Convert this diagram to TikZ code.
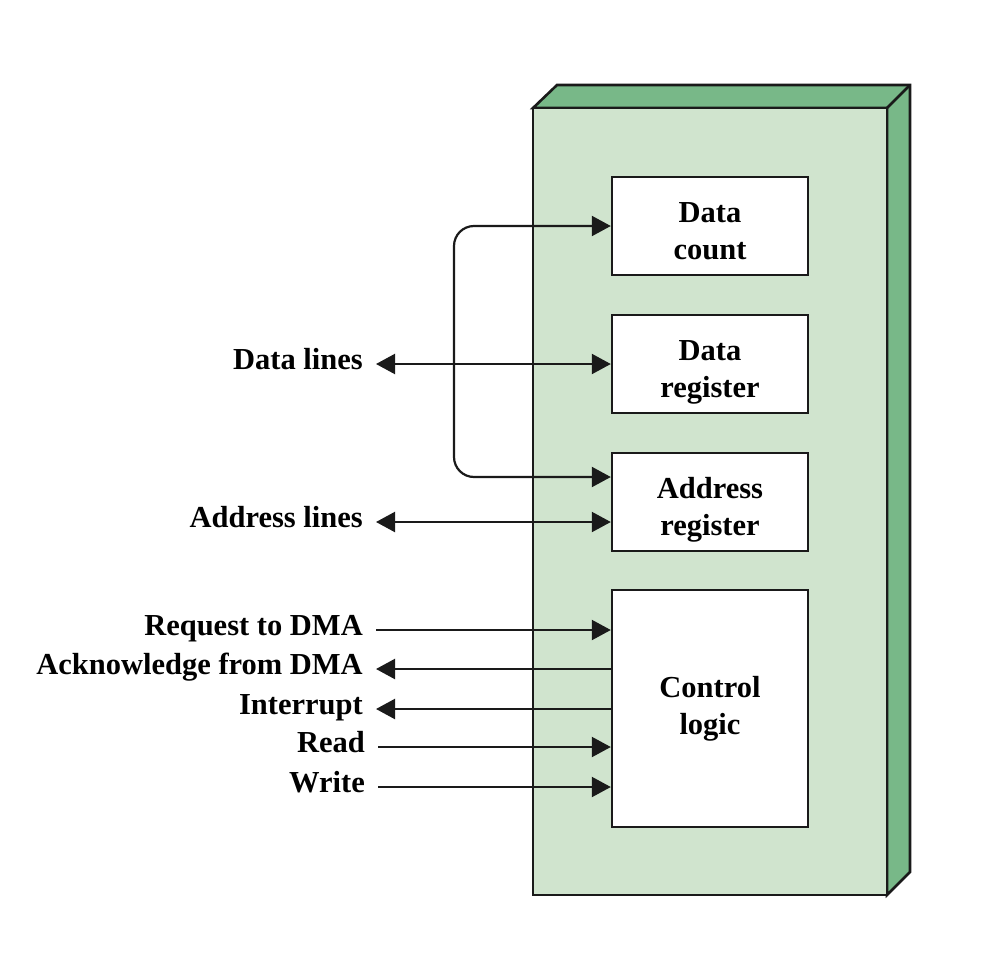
\documentclass[tikz,border=0pt]{standalone}
\usepackage{fontspec}
\setmainfont{Liberation Serif}
\usetikzlibrary{arrows.meta}
\definecolor{frontg}{HTML}{D0E4CE}
\definecolor{sideg}{HTML}{78B888}
\definecolor{ink}{HTML}{1A1A1A}
\begin{document}
\begin{tikzpicture}[x=1pt,y=-1pt,
  >={Triangle[length=19pt,width=20pt]},
  conn/.style={draw=ink,line width=2.2pt},
  regbox/.style={draw=ink,line width=2.4pt,fill=white,minimum width=196pt,minimum height=98pt,
     align=center,font=\fontsize{30.5}{37}\selectfont\bfseries,inner sep=0pt},
  fixtext/.style={text height=66pt,text depth=0pt},
  lbl/.style={anchor=east,inner xsep=13pt,inner ysep=0pt,text height=22pt,text depth=12pt,
     font=\fontsize{30.5}{36}\selectfont\bfseries}]
\useasboundingbox (0,0) rectangle (1000,966);
% 3D module box
\draw[ink,line width=2.6pt,fill=sideg,line join=miter]
  (533,108) -- (557,85) -- (910,85) -- (910,872) -- (887,895) -- (887,108) -- cycle;
\draw[ink,line width=2.6pt] (887,108) -- (910,85);
\draw[ink,line width=2.6pt,fill=frontg] (533,108) rectangle (887,895);
% registers
\node[regbox,fixtext] (dc) at (710,226) {Data\\count};
\node[regbox,fixtext] (dr) at (710,364) {Data\\register};
\node[regbox,fixtext] (ar) at (710,502) {Address\\register};
\node[regbox,minimum height=237pt] (cl) at (710,708.5) {Control\\logic};
% labels
\node[lbl] (dl) at (376,364) {Data lines};
\node[lbl] (al) at (376,522) {Address lines};
\node[lbl] (req) at (376,630) {Request to DMA};
\node[lbl] (ack) at (376,669) {Acknowledge from DMA};
\node[lbl] (int) at (376,709) {Interrupt};
\node[lbl] (rd) at (378,747) {Read};
\node[lbl] (wr) at (378,787) {Write};
% loop coordinates
\coordinate (lt) at (454,226);
\coordinate (lb) at (454,477);
% connectors
\draw[conn,<->,rounded corners=20pt] (dc.west) -- (lt) -- (lb) -- (lb -| ar.west);
\draw[conn,<->] (dl.east) -- (dr.west);
\draw[conn,<->] (al.east) -- (al.east -| ar.west);
\draw[conn,->] (req.east) -- (req.east -| cl.west);
\draw[conn,->] (ack.east -| cl.west) -- (ack.east);
\draw[conn,->] (int.east -| cl.west) -- (int.east);
\draw[conn,->] (rd.east) -- (rd.east -| cl.west);
\draw[conn,->] (wr.east) -- (wr.east -| cl.west);
\end{tikzpicture}
\end{document}
